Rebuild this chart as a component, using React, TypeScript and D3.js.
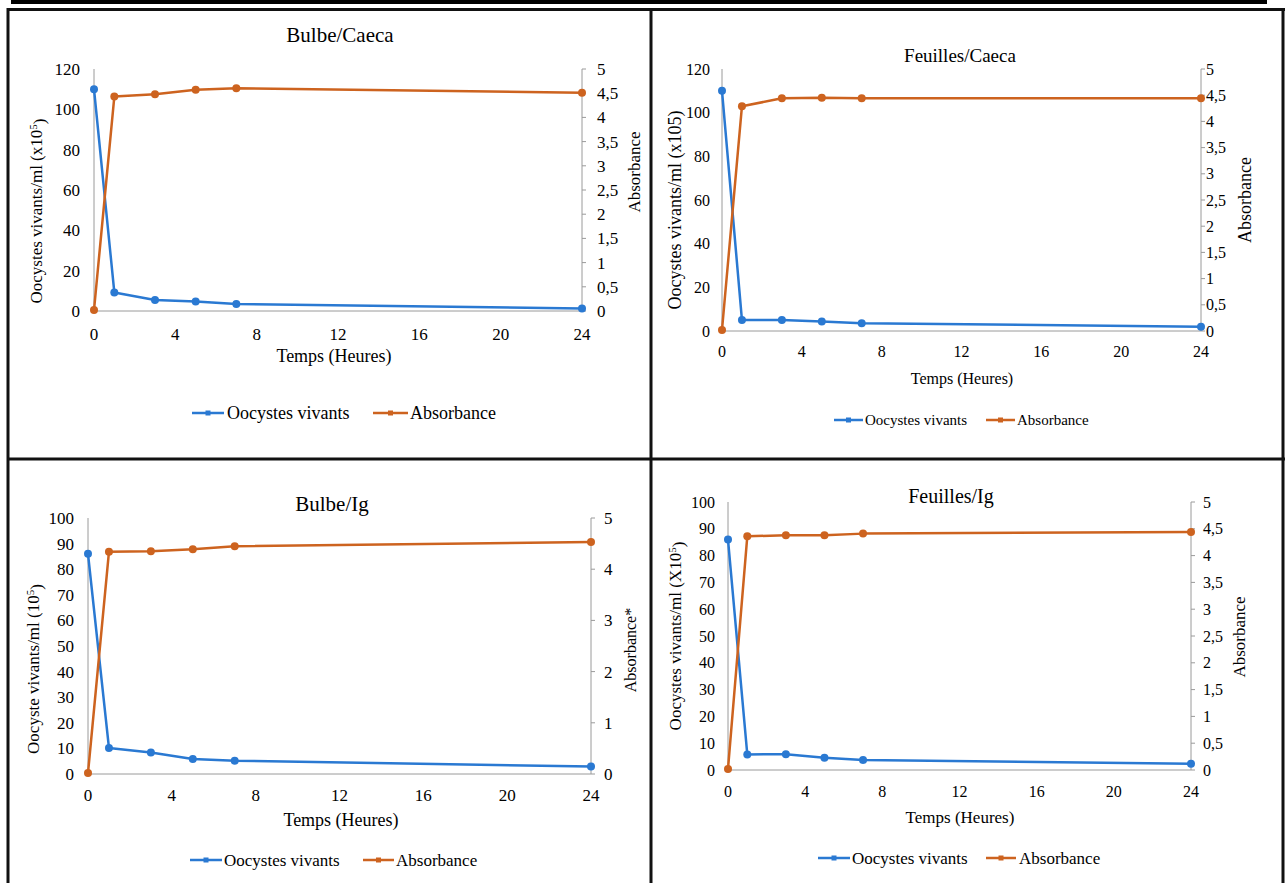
import * as d3 from "d3";

// sampling times (hours)
const hours = [0, 1, 3, 5, 7, 24];
const xTicks = [0, 4, 8, 12, 16, 20, 24];

// Bulbe/Caeca
const bulbeCaecaOocystes = [110, 9.2, 5.5, 4.7, 3.5, 1.2];
const bulbeCaecaAbsorbance = [0.02, 4.43, 4.48, 4.57, 4.6, 4.51];
// Feuilles/Caeca
const feuillesCaecaOocystes = [110, 5, 5, 4.3, 3.5, 2];
const feuillesCaecaAbsorbance = [0.02, 4.29, 4.44, 4.45, 4.44, 4.44];
// Bulbe/Ig
const bulbeIgOocystes = [86, 10.2, 8.4, 5.9, 5.2, 2.9];
const bulbeIgAbsorbance = [0.02, 4.34, 4.35, 4.39, 4.45, 4.53];
// Feuilles/Ig
const feuillesIgOocystes = [86, 5.8, 5.9, 4.6, 3.7, 2.3];
const feuillesIgAbsorbance = [0.02, 4.36, 4.38, 4.38, 4.41, 4.44];

const leftTicks120 = [0, 20, 40, 60, 80, 100, 120];
const leftTicks100 = [0, 10, 20, 30, 40, 50, 60, 70, 80, 90, 100];
const rightTicksHalf = [0, 0.5, 1, 1.5, 2, 2.5, 3, 3.5, 4, 4.5, 5];
const rightTicksWhole = [0, 1, 2, 3, 4, 5];

const BLUE = "#2a79d2";
const ORANGE = "#cd631f";
const AXIS = "#9a9a9a";
const FONT = "Liberation Serif, Times New Roman, serif";

const fmt = (v: number) => String(v).replace(".", ",");

const panels = [
  {
    title: "Bulbe/Caeca", oocystes: bulbeCaecaOocystes, absorbance: bulbeCaecaAbsorbance,
    leftTicks: leftTicks120, rightTicks: rightTicksHalf,
    yLabel: ["Oocystes vivants/ml (x10", "5", ")"], rLabel: "Absorbance",
    x0: 94, x1: 582, yTop: 69, yBot: 311, lOff: 14, rOff: 15, xLabY: 334,
    titlePos: [340, 35], xTitlePos: [334, 356], yTitlePos: [36, 211], rTitlePos: [634, 172],
    legY: 413, leg: [192, 224, 227, 373, 408, 410],
    fs: { tick: 17, title: 21, xt: 18, yt: 17, rt: 17, leg: 18 },
  },
  {
    title: "Feuilles/Caeca", oocystes: feuillesCaecaOocystes, absorbance: feuillesCaecaAbsorbance,
    leftTicks: leftTicks120, rightTicks: rightTicksHalf,
    yLabel: ["Oocystes vivants/ml (x105)"], rLabel: "Absorbance",
    x0: 722, x1: 1201, yTop: 69, yBot: 331, lOff: 12, rOff: 5, xLabY: 351,
    titlePos: [960, 55], xTitlePos: [962, 378], yTitlePos: [675, 210], rTitlePos: [1245, 200],
    legY: 420, leg: [834, 863, 865, 986, 1015, 1017],
    fs: { tick: 16, title: 19, xt: 16, yt: 18, rt: 18, leg: 15 },
  },
  {
    title: "Bulbe/Ig", oocystes: bulbeIgOocystes, absorbance: bulbeIgAbsorbance,
    leftTicks: leftTicks100, rightTicks: rightTicksWhole,
    yLabel: ["Oocyste vivants/ml (10", "5", ")"], rLabel: "Absorbance*",
    x0: 88, x1: 591, yTop: 518, yBot: 774, lOff: 14, rOff: 13, xLabY: 795,
    titlePos: [332, 504], xTitlePos: [341, 820], yTitlePos: [33, 669], rTitlePos: [630, 650],
    legY: 860, leg: [190, 222, 224, 363, 394, 396],
    fs: { tick: 17, title: 21, xt: 18, yt: 17, rt: 16, leg: 17 },
  },
  {
    title: "Feuilles/Ig", oocystes: feuillesIgOocystes, absorbance: feuillesIgAbsorbance,
    leftTicks: leftTicks100, rightTicks: rightTicksHalf,
    yLabel: ["Oocystes vivants/ml (X10", "5", ")"], rLabel: "Absorbance",
    x0: 728, x1: 1191, yTop: 502, yBot: 770, lOff: 13, rOff: 12, xLabY: 791,
    titlePos: [951, 496], xTitlePos: [960, 817], yTitlePos: [675, 636], rTitlePos: [1239, 637],
    legY: 858, leg: [818, 850, 852, 986, 1016, 1019],
    fs: { tick: 16, title: 20, xt: 17, yt: 17, rt: 17, leg: 17 },
  },
];

type P = (typeof panels)[number];

function Panel({ p }: { p: P }) {
  const x = d3.scaleLinear().domain([0, 24]).range([p.x0, p.x1]);
  const yL = d3.scaleLinear().domain([0, p.leftTicks[p.leftTicks.length - 1]]).range([p.yBot, p.yTop]);
  const yR = d3.scaleLinear().domain([0, 5]).range([p.yBot, p.yTop]);
  const lineL = d3.line<number>().x((_, i) => x(hours[i])).y((d) => yL(d));
  const lineR = d3.line<number>().x((_, i) => x(hours[i])).y((d) => yR(d));
  const [b0, b1, bt, o0, o1, ot] = p.leg;

  return (
    <g style={{ fontFamily: FONT }} fill="#000">
      <text x={p.titlePos[0]} y={p.titlePos[1]} dy="0.35em" textAnchor="middle" fontSize={p.fs.title}>{p.title}</text>

      {/* axes */}
      <line x1={p.x0} x2={p.x0} y1={p.yTop} y2={p.yBot} stroke={AXIS} strokeWidth={1} />
      <line x1={p.x0} x2={p.x1} y1={p.yBot} y2={p.yBot} stroke={AXIS} strokeWidth={1} />
      <line x1={p.x1} x2={p.x1} y1={p.yTop} y2={p.yBot} stroke={AXIS} strokeWidth={1} />
      {p.rightTicks.map((t) => (
        <line key={"rt" + t} x1={p.x1} x2={p.x1 + 4} y1={yR(t)} y2={yR(t)} stroke={AXIS} strokeWidth={1} />
      ))}
      {p.leftTicks.map((t) => (
        <text key={"l" + t} x={p.x0 - p.lOff} y={yL(t)} dy="0.35em" textAnchor="end" fontSize={p.fs.tick}>{t}</text>
      ))}
      {p.rightTicks.map((t) => (
        <text key={"r" + t} x={p.x1 + p.rOff} y={yR(t)} dy="0.35em" textAnchor="start" fontSize={p.fs.tick}>{fmt(t)}</text>
      ))}
      {xTicks.map((t) => (
        <text key={"x" + t} x={x(t)} y={p.xLabY} dy="0.35em" textAnchor="middle" fontSize={p.fs.tick}>{t}</text>
      ))}

      <text x={p.xTitlePos[0]} y={p.xTitlePos[1]} dy="0.35em" textAnchor="middle" fontSize={p.fs.xt}>Temps (Heures)</text>
      <text transform={`translate(${p.yTitlePos[0]},${p.yTitlePos[1]}) rotate(-90)`} dy="0.35em" textAnchor="middle" fontSize={p.fs.yt}>
        {p.yLabel[0]}
        {p.yLabel.length > 1 && (
          <>
            <tspan dy="-0.45em" fontSize="0.65em">{p.yLabel[1]}</tspan>
            <tspan dy="0.45em">{p.yLabel[2]}</tspan>
          </>
        )}
      </text>
      <text transform={`translate(${p.rTitlePos[0]},${p.rTitlePos[1]}) rotate(-90)`} dy="0.35em" textAnchor="middle" fontSize={p.fs.rt}>{p.rLabel}</text>

      {/* series */}
      <path d={lineL(p.oocystes) ?? ""} fill="none" stroke={BLUE} strokeWidth={2.5} strokeLinejoin="round" />
      <path d={lineR(p.absorbance) ?? ""} fill="none" stroke={ORANGE} strokeWidth={2.5} strokeLinejoin="round" />
      {p.oocystes.map((v, i) => (
        <circle key={"bo" + i} cx={x(hours[i])} cy={yL(v)} r={4} fill={BLUE} />
      ))}
      {p.absorbance.map((v, i) => (
        <circle key={"ab" + i} cx={x(hours[i])} cy={yR(v)} r={4} fill={ORANGE} />
      ))}

      {/* legend */}
      <line x1={b0} x2={b1} y1={p.legY} y2={p.legY} stroke={BLUE} strokeWidth={2.5} />
      <rect x={(b0 + b1) / 2 - 2.5} y={p.legY - 2.5} width={5} height={5} fill={BLUE} />
      <text x={bt} y={p.legY} dy="0.35em" fontSize={p.fs.leg}>Oocystes vivants</text>
      <line x1={o0} x2={o1} y1={p.legY} y2={p.legY} stroke={ORANGE} strokeWidth={2.5} />
      <rect x={(o0 + o1) / 2 - 2.5} y={p.legY - 2.5} width={5} height={5} fill={ORANGE} />
      <text x={ot} y={p.legY} dy="0.35em" fontSize={p.fs.leg}>Absorbance</text>
    </g>
  );
}

export default function App() {
  return (
    <div style={{ position: "absolute", left: 0, top: 0 }}>
      <svg width={1285} height={883} style={{ display: "block", background: "#fff" }}>
        <rect x={0} y={0} width={1285} height={883} fill="#fff" />
        <rect x={11} y={0} width={1256} height={4} fill="#000" />
        {/* table frame */}
        <g stroke="#111" strokeWidth={3}>
          <line x1={7} x2={1285} y1={9.5} y2={9.5} />
          <line x1={8} x2={8} y1={8} y2={883} />
          <line x1={1283} x2={1283} y1={8} y2={883} />
          <line x1={651} x2={651} y1={8} y2={883} />
          <line x1={7} x2={1285} y1={459} y2={459} />
        </g>
        {panels.map((p) => (
          <Panel key={p.title} p={p} />
        ))}
      </svg>
    </div>
  );
}
